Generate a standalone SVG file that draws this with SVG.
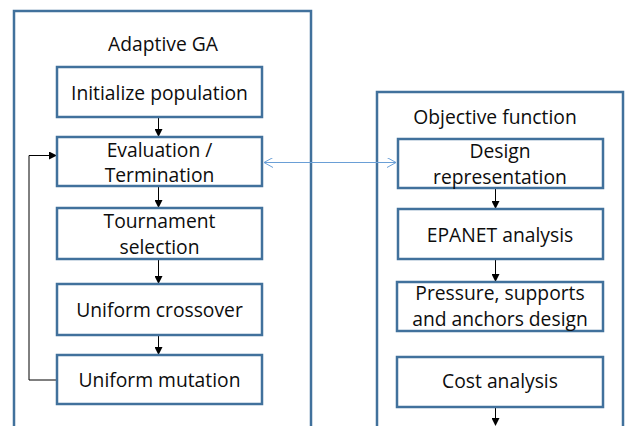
<svg xmlns="http://www.w3.org/2000/svg" width="626" height="426" viewBox="0 0 626 426">
<defs>
<style>
.outer{fill:none;stroke:#41719c;stroke-width:2.5}
.box{fill:#fff;stroke:#41719c;stroke-width:2.5}
.t{font-family:"Open Sans","Liberation Sans",sans-serif;font-size:19.3px;fill:#0d0d0d;text-anchor:middle}
.c{stroke:#000;stroke-width:1;fill:none}
.b{stroke:#6a9fd6;stroke-width:1;fill:none}
</style>
<marker id="ah" markerWidth="8" markerHeight="8" refX="7" refY="4" orient="auto" markerUnits="userSpaceOnUse">
<path d="M0,0 L8,4 L0,8 z" fill="#000"/>
</marker>
<marker id="oh" markerWidth="10" markerHeight="10" refX="9" refY="5" orient="auto-start-reverse" markerUnits="userSpaceOnUse">
<path d="M0,0 L9,5 L0,10" fill="none" stroke="#6a9fd6" stroke-width="1"/>
</marker>
</defs>
<rect fill="#fff" width="626" height="426"/>
<g id="adaptive-ga">
<rect class="outer" x="14" y="11" width="297" height="430"/>
<text class="t" x="163" y="51">Adaptive GA</text>
</g>
<g id="objective-function">
<rect class="outer" x="377" y="92" width="246" height="350"/>
<text class="t" x="495" y="124">Objective function</text>
</g>
<g id="connectors">
<line class="c" x1="158.5" y1="117" x2="158.5" y2="136" marker-end="url(#ah)"/>
<line class="c" x1="158.5" y1="186" x2="158.5" y2="207" marker-end="url(#ah)"/>
<line class="c" x1="158.5" y1="259" x2="158.5" y2="283" marker-end="url(#ah)"/>
<line class="c" x1="158.5" y1="335" x2="158.5" y2="354" marker-end="url(#ah)"/>
<polyline class="c" points="57,380 29,380 29,155.5 56,155.5" marker-end="url(#ah)" stroke="#444"/>
<line class="c" x1="495.5" y1="188" x2="495.5" y2="208" marker-end="url(#ah)"/>
<line class="c" x1="495.5" y1="260" x2="495.5" y2="281" marker-end="url(#ah)"/>
<line class="c" x1="495.5" y1="407" x2="495.5" y2="425" marker-end="url(#ah)"/>
<line class="b" x1="264" y1="162.5" x2="396" y2="162.5" marker-start="url(#oh)" marker-end="url(#oh)"/>
</g>
<g id="init">
<rect class="box" x="57" y="67" width="205" height="50"/>
<text class="t" x="159.5" y="100">Initialize population</text>
</g>
<g id="eval">
<rect class="box" x="57" y="137" width="205" height="49"/>
<text class="t" x="159.5" y="157">Evaluation /</text>
<text class="t" x="159.5" y="182">Termination</text>
</g>
<g id="tournament">
<rect class="box" x="57" y="208" width="205" height="51"/>
<text class="t" x="159.5" y="228">Tournament</text>
<text class="t" x="159.5" y="254">selection</text>
</g>
<g id="crossover">
<rect class="box" x="57" y="284" width="205" height="51"/>
<text class="t" x="159.5" y="317">Uniform crossover</text>
</g>
<g id="mutation">
<rect class="box" x="57" y="355" width="205" height="49"/>
<text class="t" x="159.5" y="387">Uniform mutation</text>
</g>
<g id="design">
<rect class="box" x="398" y="139" width="205" height="49"/>
<text class="t" x="500" y="158">Design</text>
<text class="t" x="500" y="184">representation</text>
</g>
<g id="epanet">
<rect class="box" x="398" y="209" width="205" height="50"/>
<text class="t" x="500" y="242">EPANET analysis</text>
</g>
<g id="pressure">
<rect class="box" x="397" y="282" width="206" height="49"/>
<text class="t" x="500" y="300">Pressure, supports</text>
<text class="t" x="500" y="326">and anchors design</text>
</g>
<g id="cost">
<rect class="box" x="397" y="357" width="206" height="50"/>
<text class="t" x="500" y="388">Cost analysis</text>
</g>
</svg>
